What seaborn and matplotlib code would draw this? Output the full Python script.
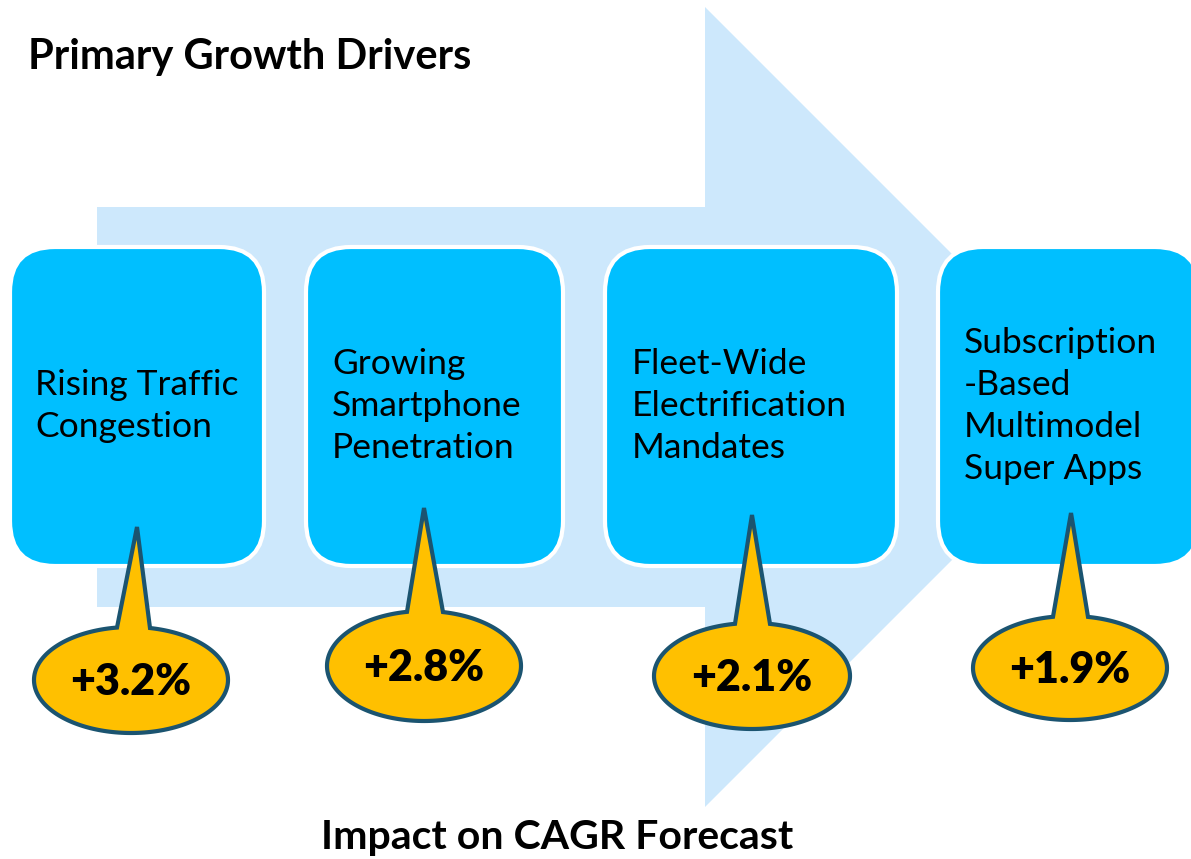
import numpy as np
import seaborn as sns
import matplotlib
matplotlib.use('Agg')
import matplotlib.pyplot as plt
from matplotlib.patches import FancyBboxPatch, Polygon

# chart content
title = "Primary Growth Drivers"
footer = "Impact on CAGR Forecast"
drivers = ["Rising Traffic\nCongestion",
           "Growing\nSmartphone\nPenetration",
           "Fleet-Wide\nElectrification\nMandates",
           "Subscription\n-Based\nMultimodel\nSuper Apps"]
impact = [3.2, 2.8, 2.1, 1.9]
labels = ["+%.1f%%" % v for v in impact]

# layout (pixel space, y down)
box_x = [10, 306, 605, 938]
box_w = [254, 257, 292, 262]
box_top, box_bot = 247, 566
txt_x = [35, 332, 632, 964]
txt_y = [406, 406, 406, 406]
ell_c = [(131, 680), (424, 666), (752, 676), (1070, 668)]
ell_ab = [(97, 53), (97, 55), (98, 53), (97, 52)]
tip = [(137, 527), (424, 508), (752, 515), (1071, 513)]
tip_base = [(117, 150), (407, 443), (735, 770), (1053, 1088)]

BOX = "#00BFFF"
ARROW = "#CDE8FC"
GOLD = "#FFC000"
EDGE = "#1B5470"

sns.set_theme(style="white")
plt.rcParams['font.family'] = ['Lato', 'DejaVu Sans']

fig = plt.figure(figsize=(11.91, 8.59), dpi=100)
ax = fig.add_axes([0, 0, 1, 1])
ax.set_xlim(0, 1191)
ax.set_ylim(859, 0)
ax.axis('off')

# big background arrow
arrow = Polygon([(97, 207), (705, 207), (705, 7), (1105, 407),
                 (705, 807), (705, 607), (97, 607)],
                closed=True, facecolor=ARROW, edgecolor='none', zorder=1)
ax.add_patch(arrow)

# driver boxes
for x, w, t, tx, ty in zip(box_x, box_w, drivers, txt_x, txt_y):
    r = 45
    p = FancyBboxPatch((x + r, box_top + r), w - 2 * r, box_bot - box_top - 2 * r,
                       boxstyle="round,pad=%d" % r, facecolor=BOX,
                       edgecolor='white', linewidth=3, zorder=2)
    ax.add_patch(p)
    ax.text(tx, ty, t, fontsize=25.5, ha='left', va='center', color='black',
            linespacing=1.38, zorder=5)

# callouts
for (cx, cy), (a, b), (px, py), (bl, br), lab in zip(ell_c, ell_ab, tip, tip_base, labels):
    tl = np.arccos((bl - cx) / a)
    tr = np.arccos((br - cx) / a)
    ts = np.linspace(tr, tl - 2 * np.pi, 200)
    pts = [(px, py)] + [(cx + a * np.cos(t), cy - b * np.sin(t)) for t in ts]
    ax.add_patch(Polygon(pts, closed=True, facecolor=GOLD, edgecolor=EDGE,
                         linewidth=3, joinstyle='miter', zorder=3))
    ax.text(cx, cy + 2, lab, fontsize=31, fontweight='heavy', ha='center',
            va='center', color='black', zorder=6)

ax.text(28, 57, title, fontsize=30, fontweight='bold', ha='left', va='center',
        color='black')
ax.text(557, 838, footer, fontsize=29.5, fontweight='bold', ha='center',
        va='center', color='black')

fig.savefig("out.png", dpi=100)
